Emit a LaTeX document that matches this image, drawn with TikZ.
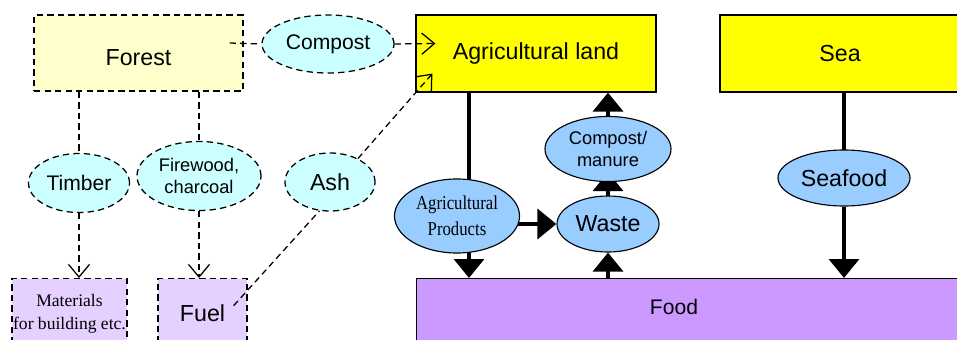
\documentclass[tikz,border=0pt]{standalone}
\usepackage{fontspec}
\setmainfont{Liberation Sans}
\newfontfamily\serifface{Liberation Serif}
\newfontfamily\narrowserif[FakeStretch=0.85]{Liberation Serif}
\usetikzlibrary{shapes.geometric,arrows.meta,calc}
\definecolor{landyellow}{RGB}{255,255,0}
\definecolor{forestyellow}{RGB}{255,255,204}
\definecolor{lightcyan}{RGB}{204,255,255}
\definecolor{lightblue}{RGB}{153,204,255}
\definecolor{lilac}{RGB}{229,208,255}
\definecolor{foodpurple}{RGB}{204,153,255}
\pgfdeclarelayer{bg}
\pgfsetlayers{bg,main}

\begin{document}
\begin{tikzpicture}[x=0.025cm,y=-0.025cm]
    \tikzstyle{bigfont}=[font=\fontsize{16.5}{19}\selectfont]
    \tikzstyle{midfont}=[font=\fontsize{15}{18}\selectfont]
    \tikzstyle{smallfont}=[font=\fontsize{13}{15}\selectfont, align=center]
    \tikzstyle{solidbox}=[rectangle, draw=black, line width=0.8pt, inner sep=0pt]
    \tikzstyle{dashbox}=[rectangle, draw=black, line width=0.9pt, dash pattern=on 4.5pt off 3pt, inner sep=0pt]
    \tikzstyle{cyanoval}=[ellipse, fill=lightcyan, draw=black, line width=0.9pt, dash pattern=on 4.5pt off 3pt, inner sep=0pt]
    \tikzstyle{blueoval}=[ellipse, fill=lightblue, draw=black, line width=0.8pt, inner sep=0pt]
    \tikzstyle{dline}=[line width=0.9pt, dash pattern=on 4.5pt off 3pt]
    \tikzstyle{darrow}=[dline, -{Straight Barb[length=9pt,width=15pt,line width=0.9pt]}]
    \tikzstyle{bar}=[line width=3.5pt]
    \tikzstyle{bararrow}=[bar, -{Triangle[length=13.5pt,width=21pt]}]

    \useasboundingbox (0,0) rectangle (957,340);

    % sources
    \node[dashbox, fill=forestyellow, minimum width=5.225cm, minimum height=1.9cm, bigfont, text height=17.5pt, text depth=0pt] (forest) at (138.5,53) {Forest};
    \node[solidbox, fill=landyellow, minimum width=6cm, minimum height=1.925cm, bigfont] (agland) at (536,53.5) {Agricultural land};
    \node[solidbox, fill=landyellow, minimum width=6cm, minimum height=1.925cm, bigfont] (sea) at (840,53.5) {Sea};

    % uses
    \node[dashbox, fill=lilac, minimum width=2.875cm, minimum height=1.75cm, anchor=north, align=center, font=\serifface\fontsize{12.5}{16.4}\selectfont] (materials) at (69.5,278) {Materials\\for building etc.};
    \node[dashbox, fill=lilac, minimum width=2.225cm, minimum height=1.75cm, anchor=north, bigfont] (fuel) at (202.5,278) {Fuel};
    \node[solidbox, fill=foodpurple, minimum width=14cm, minimum height=1.75cm, anchor=north west] (food) at (416,278) {};
    \node[midfont] (foodtext) at (674,307) {Food};

    % forest products
    \node[cyanoval, minimum width=3.3cm, minimum height=1.45cm, midfont] (compost) at (328,44) {Compost};
    \node[cyanoval, minimum width=2.525cm, minimum height=1.475cm, midfont] (timber) at (79,183) {Timber};
    \node[cyanoval, minimum width=3.1cm, minimum height=1.725cm, smallfont] (firewood) at (199,176) {Firewood,\\charcoal};
    \node[cyanoval, minimum width=2.25cm, minimum height=1.45cm, bigfont] (ash) at (330,182) {Ash};

    % land and sea products
    \node[blueoval, minimum width=3.125cm, minimum height=1.85cm, align=center, font=\narrowserif\fontsize{14}{18.5}\selectfont] (agprod) at (457,216) {Agricultural\\Products};
    \node[blueoval, minimum width=2.55cm, minimum height=1.4cm, bigfont] (waste) at (608,224) {Waste};
    \node[blueoval, minimum width=3.15cm, minimum height=1.625cm, smallfont] (manure) at (608,149) {Compost/\\manure};
    \node[blueoval, minimum width=3.3cm, minimum height=1.4cm, bigfont] (seafood) at (844,178) {Seafood};

    % dashed flows
    \draw[dline] ($(forest.east)+(-14,-10)$) -- (compost.west);
    \draw[darrow] (compost.east) -- ($(agland.west)+(20,-10)$);
    \draw[dline] (timber.north |- forest.south) -- (timber.north);
    \draw[darrow] (timber.south) -- (timber.south |- materials.north);
    \draw[dline] (firewood.north |- forest.south) -- (firewood.north);
    \draw[darrow] (firewood.south) -- (firewood.south |- fuel.north);
    \draw[dline] ($(fuel.east)+(-14,-8)$) -- (ash.250);
    \draw[darrow] (ash.40) -- ($(agland.south west)+(17,-19)$);

    % solid flows
    \begin{pgfonlayer}{bg}
    \path (agprod.center) ++(12,0) coordinate (prodx);
    \draw[bar] (prodx |- agland.south) -- (prodx);
    \draw[bararrow] (prodx) -- (prodx |- food.north);
    \draw[bararrow] ($(agprod.center)+(0,8)$) -- (waste.west);
    \draw[bararrow] (waste.south |- food.north) -- (waste.south);
    \draw[bararrow] (waste.center) -- ($(manure.south)+(0,-10)$);
    \draw[bararrow] (manure.north) -- (manure.north |- agland.south);
    \draw[bar] (seafood.north |- sea.south) -- (seafood.center);
    \draw[bararrow] (seafood.south) -- (seafood.south |- food.north);
    \end{pgfonlayer}
\end{tikzpicture}
\end{document}
